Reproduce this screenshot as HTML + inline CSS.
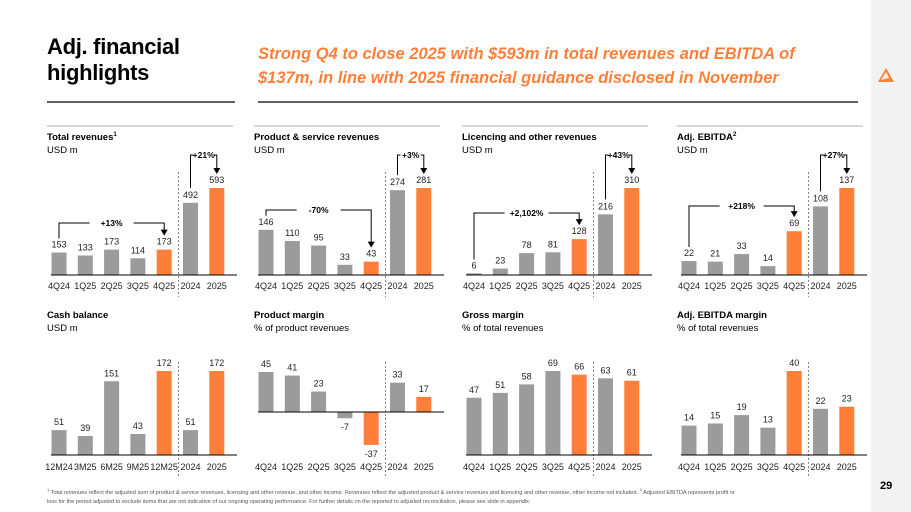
<!DOCTYPE html>
<html><head><meta charset="utf-8"><style>
body{margin:0;width:911px;height:512px;overflow:hidden;background:#fff;font-family:"Liberation Sans",sans-serif;position:relative}
.strip{position:absolute;left:871px;top:0;width:40px;height:512px;background:#f2f2f2}
h1{position:absolute;left:47px;top:34px;margin:0;font-size:22px;line-height:26px;font-weight:bold;color:#000;letter-spacing:-0.3px}
.sub{position:absolute;left:258px;top:42px;width:548px;font-size:16.5px;line-height:24px;font-weight:bold;font-style:italic;color:#ff7f3a}
.foot{position:absolute;left:47px;top:485px;width:690px;font-size:5.6px;line-height:9px;color:#555}
.pg{position:absolute;left:880px;top:480px;font-size:11px;font-weight:bold}
svg{position:absolute;left:0;top:0}
</style></head><body>
<div class="strip"></div>
<h1>Adj. financial<br>highlights</h1>
<div class="sub">Strong Q4 to close 2025 with $593m in total revenues and EBITDA of $137m, in line with 2025 financial guidance disclosed in November</div>
<div class="foot"><sup style="font-size:4px">1</sup> Total revenues reflect the adjusted sum of product &amp; service revenues, licensing and other revenue, and other income. Revenues reflect the adjusted product &amp; service revenues and licencing and other revenue, other income not included. <sup style="font-size:4px">2</sup> Adjusted EBITDA represents profit or loss for the period adjusted to exclude items that are not indicative of our ongoing operating performance. For further details on the reported to adjusted reconciliation, please see slide in appendix.</div>
<div class="pg">29</div>
<svg id="s" width="911" height="512">
<line x1="47" y1="102" x2="235" y2="102" stroke="#000" stroke-width="1.2"/>
<line x1="258" y1="102" x2="858" y2="102" stroke="#000" stroke-width="1.2"/>
<polygon points="878,82 886,68 894,82" fill="#ff7f3a"/>
<polygon points="881,80 886,72 889,78" fill="#f2f2f2"/>
</svg>
<script>
const catsQ=["4Q24","1Q25","2Q25","3Q25","4Q25","2024","2025"];
const catsCash=["12M24","3M25","6M25","9M25","12M25","2024","2025"];
const revVals=[153,133,173,114,173,492,593];
const psVals=[146,110,95,33,43,274,281];
const licVals=[6,23,78,81,128,216,310];
const ebitdaVals=[22,21,33,14,69,108,137];
const cashVals=[51,39,151,43,172,51,172];
const pmVals=[45,41,23,-7,-37,33,17];
const gmVals=[47,51,58,69,66,63,61];
const emVals=[14,15,19,13,40,22,23];
const qLabels=["+13%","-70%","+2,102%","+218%"];
const yLabels=["+21%","+3%","+43%","+27%"];
const titles=["Total revenues","Product & service revenues","Licencing and other revenues","Adj. EBITDA","Cash balance","Product margin","Gross margin","Adj. EBITDA margin"];
const subs=["USD m","USD m","USD m","USD m","USD m","% of product revenues","% of total revenues","% of total revenues"];
const sups=["1","","","2","","","",""];
const S=document.getElementById('s');const NS="http://www.w3.org/2000/svg";
function mk(t,a,txt){const e=document.createElementNS(NS,t);for(const k in a)e.setAttribute(k,a[k]);if(txt!=null)e.textContent=txt;S.appendChild(e);return e;}
const colX=[47,254,462,677];
const panels=[
 {c:0,r:0,cats:catsQ,v:revVals,q:0,by:223},
 {c:1,r:0,cats:catsQ,v:psVals,q:1,by:210},
 {c:2,r:0,cats:catsQ,v:licVals,q:2,by:213},
 {c:3,r:0,cats:catsQ,v:ebitdaVals,q:3,by:206},
 {c:0,r:1,cats:catsCash,v:cashVals,orange:[4,6]},
 {c:1,r:1,cats:catsQ,v:pmVals},
 {c:2,r:1,cats:catsQ,v:gmVals},
 {c:3,r:1,cats:catsQ,v:emVals}];
panels.forEach((p,pi)=>{
 const x0=colX[p.c], top=p.r?304:126, base=p.r?455:275;
 if(!p.r){let l=mk('line',{x1:x0,y1:top,x2:x0+186,y2:top,stroke:'#999','stroke-width':0.8});
 }
 let t=mk('text',{x:x0,y:top+14,'font-size':9.5,'font-weight':'bold'},titles[pi]);
 
 if(sups[pi]){const ts=document.createElementNS(NS,'tspan');ts.setAttribute('font-size',6);ts.setAttribute('dy',-4);ts.textContent=sups[pi];t.appendChild(ts);}
 let u=mk('text',{x:x0,y:top+27,'font-size':9.5},subs[pi]);
 
 const cx=i=>x0+12+i*26.3;
 let zero,scale;
 if(pi==5){zero=412;scale=40/45;}else{const mx=Math.max(...p.v);zero=base;scale=(p.r?84:87)/mx;}
 const ybar=v=>zero-v*scale;
 const dx=x0+131.5;
 let d=mk('line',{x1:dx,y1:p.r?362:172,x2:dx,y2:base+22,stroke:'#666','stroke-width':0.8,'stroke-dasharray':'2,2'});
 
 p.v.forEach((v,i)=>{
  const orange=p.orange?p.orange.includes(i):(i==4||i==6);
  const y=ybar(v);
  let b=mk('rect',{x:cx(i)-7.5,y:Math.min(y,zero),width:15,height:Math.abs(zero-y),fill:orange?'#ff7f3a':'#9b9b9b'});
  
  let ly=v>=0?y-5:y+12;
  let tl=mk('text',{x:cx(i),y:ly,'font-size':9,'text-anchor':'middle',fill:'#222'},v);
  
  let xl=mk('text',{x:cx(i),y:p.r?470:289,'font-size':9,'text-anchor':'middle',fill:'#222'},p.cats[i]);
  
 });
 let ax=mk('line',{x1:x0+4,y1:zero,x2:x0+190,y2:zero,stroke:'#000','stroke-width':1});
 
 if(p.q!=null){
  const y=p.by, a=cx(0), b=cx(4), s=ybar(p.v[0])-14, e=ybar(p.v[4])-16;
  let g=mk('path',{d:`M${a},${s} V${y} H${b} V${e}`,fill:'none',stroke:'#000','stroke-width':1});
  
  mk('polygon',{points:`${b-3.5},${e-4} ${b+3.5},${e-4} ${b},${e+2}`,fill:'#000'});
  const mid=(a+b)/2;
  mk('rect',{x:mid-22,y:y-6,width:44,height:12,fill:'#fff'});
  let gl=mk('text',{x:mid,y:y+3,'font-size':8.5,'font-weight':'bold','text-anchor':'middle'},qLabels[p.q]);
  
  const a2=cx(5),b2=cx(6),s2=ybar(p.v[5])-15,e2=ybar(p.v[6])-16,y2=155;
  let g2=mk('path',{d:`M${a2},${s2} V${y2} H${b2} V${e2}`,fill:'none',stroke:'#000','stroke-width':1});
  
  mk('polygon',{points:`${b2-3.5},${e2-4} ${b2+3.5},${e2-4} ${b2},${e2+2}`,fill:'#000'});
  mk('rect',{x:a2+3,y:y2-6,width:b2-a2-6,height:12,fill:'#fff'});
  let gl2=mk('text',{x:(a2+b2)/2,y:y2+3,'font-size':8.5,'font-weight':'bold','text-anchor':'middle'},yLabels[p.q]);
  
 }
});
</script>
</body></html>
